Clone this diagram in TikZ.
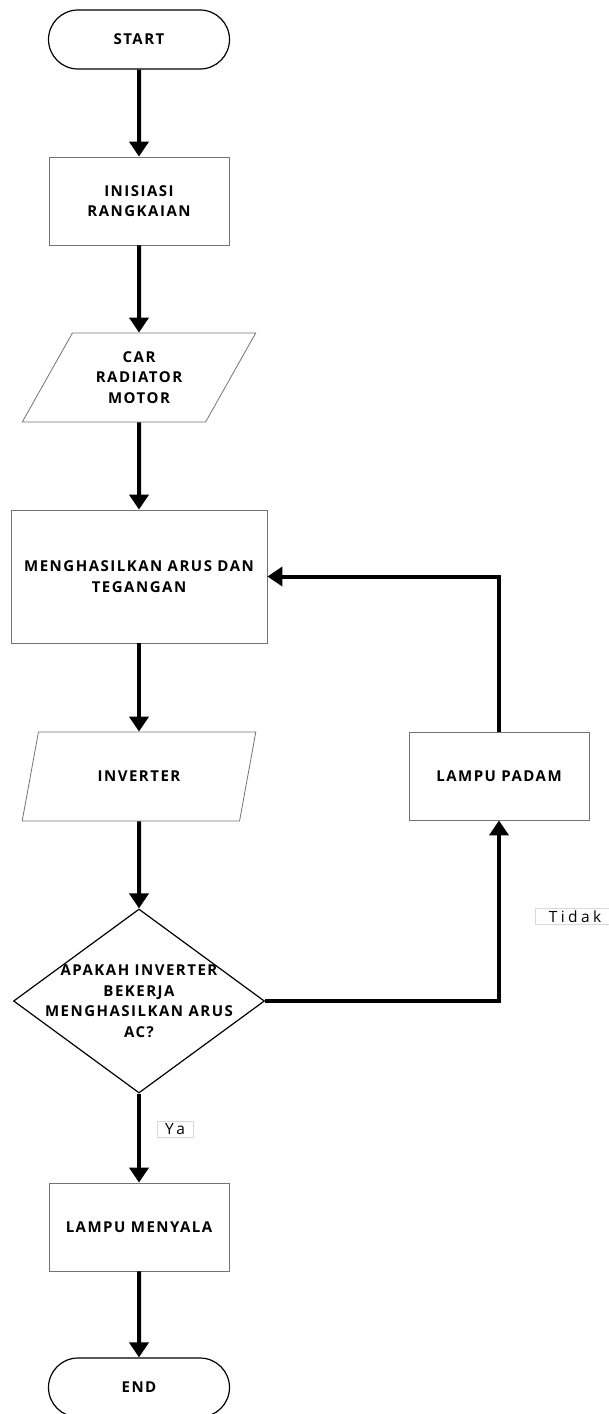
\documentclass[tikz,border=0pt]{standalone}
\usepackage{fontspec}
\setmainfont{Open Sans}
\newfontfamily\chartface[LetterSpace=10]{Open Sans}
\newfontfamily\answerface[LetterSpace=22]{Open Sans}
\usetikzlibrary{shapes.geometric,shapes.misc,arrows.meta}

\newcommand\chartfont{\chartface\bfseries\fontsize{15}{20.5}\selectfont}

\begin{document}
\begin{tikzpicture}[x=1pt,y=-1pt,
  box/.style={draw=black!55,line width=0.8pt,minimum width=180pt,minimum height=88pt,inner sep=0pt,align=center,font=\chartfont},
  terminal/.style={draw,line width=1.2pt,rounded rectangle,minimum width=181pt,minimum height=59pt,inner sep=0pt,font=\chartfont},
  io/.style={draw=black!55,line width=0.8pt,trapezium,trapezium left angle=58,trapezium right angle=122,trapezium stretches=true,minimum width=234pt,minimum height=89pt,inner sep=0pt,align=center,font=\chartfont},
  decision/.style={draw,line width=1.2pt,diamond,minimum width=251pt,minimum height=184pt,inner sep=0pt},
  answer/.style={draw=black!15,line width=0.6pt,inner sep=0pt,minimum height=16pt,font=\answerface\fontsize{15.5}{15.5}\selectfont},
  flow/.style={line width=4pt,-{Triangle[width=19pt,length=15pt]}}]
  \useasboundingbox (0,0) rectangle (609,1414);

  \node[terminal] (start) at (139,39.5) {START};
  \node[box] (init) at (139,201) {INISIASI\\RANGKAIAN};
  \node[io] (car) at (139,377.5) {CAR\\RADIATOR\\MOTOR};
  \node[box,minimum width=256pt,minimum height=133pt] (gen) at (139,576.5) {MENGHASILKAN ARUS DAN\\TEGANGAN};
  \node[io] (inv) at (139,776.5) {INVERTER};
  \node[decision,label={[font=\chartfont,align=center]center:APAKAH INVERTER\\BEKERJA\\MENGHASILKAN ARUS\\AC?}] (dec) at (139,1001) {};
  \node[box] (padam) at (499,776) {LAMPU PADAM};
  \node[box] (nyala) at (139,1227) {LAMPU MENYALA};
  \node[terminal] (stop) at (139,1387.5) {END};

  \node[answer,minimum width=36pt] (ya) at (175,1129) {Ya};
  \node[answer,minimum width=74pt] (tidak) at (572,916.5) {\hspace{6pt}Tidak};

  \draw[flow] (start) -- (init);
  \draw[flow] (init) -- (car);
  \draw[flow] (car) -- (gen);
  \draw[flow] (gen) -- (inv);
  \draw[flow] (inv) -- (dec);
  \draw[flow] (dec) -- (nyala);
  \draw[flow] (nyala) -- (stop);
  \draw[flow] (dec.east) -| (padam.south);
  \draw[flow] (padam.north) |- (gen.east);
\end{tikzpicture}
\end{document}
